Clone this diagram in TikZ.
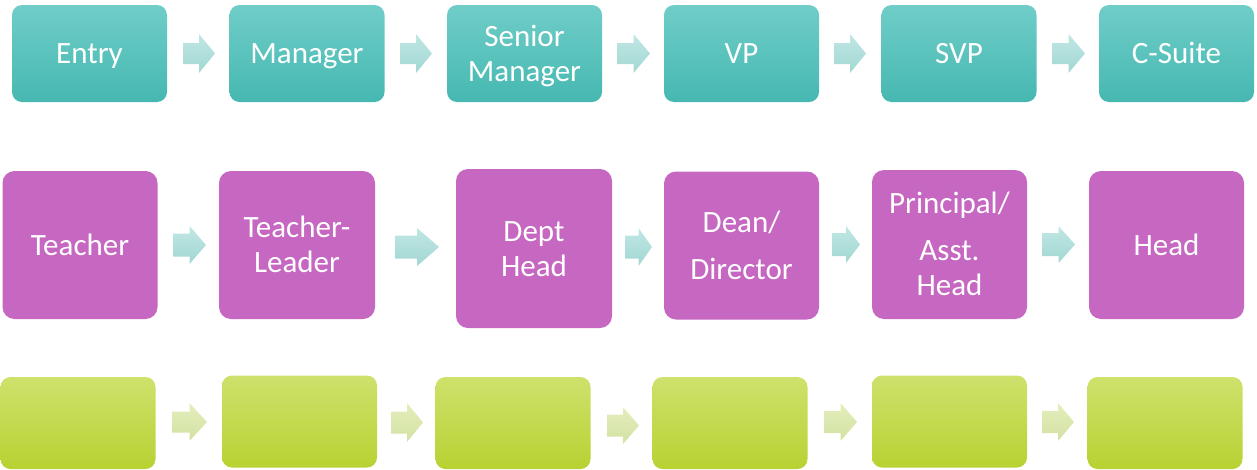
\documentclass[tikz,border=0pt]{standalone}
\usepackage{fontspec}
\setmainfont{Carlito}
\definecolor{tealtop}{RGB}{112,205,200}
\definecolor{tealmid}{RGB}{88,200,193}
\definecolor{tealbot}{RGB}{70,184,177}
\definecolor{magbox}{RGB}{198,103,194}
\definecolor{greentop}{RGB}{206,225,108}
\definecolor{greenmid}{RGB}{199,225,72}
\definecolor{greenbot}{RGB}{184,210,50}
\definecolor{tarrtop}{RGB}{192,231,228}
\definecolor{tarrbot}{RGB}{162,215,210}
\definecolor{garrtop}{RGB}{228,238,188}
\definecolor{garrbot}{RGB}{210,225,163}
\newcommand{\ts}{\rule[-7.5pt]{0pt}{35pt}}
\newcommand{\barrow}[6]{%
  \pgfmathsetmacro\xm{(#2+#3)/2}%
  \path[#1] (#2,{#4-#6}) -- (\xm,{#4-#6}) -- (\xm,{#4-#5}) -- (#3,#4) -- (\xm,{#4+#5}) -- (\xm,{#4+#6}) -- (#2,{#4+#6}) -- cycle;}
\tikzset{
  boxbase/.style={rectangle, rounded corners=10pt, inner sep=0pt, text=white, align=center,
    font=\fontsize{31}{35}\selectfont},
  topbox/.style={boxbase, minimum width=155pt, minimum height=97pt,
    top color=tealtop, middle color=tealmid, bottom color=tealbot},
  midbox/.style={boxbase, fill=magbox, minimum width=155pt, minimum height=148pt, rounded corners=12pt},
  botbox/.style={boxbase, minimum width=155pt, minimum height=92pt,
    top color=greentop, middle color=greenmid, bottom color=greenbot},
  tarrow/.style={top color=tarrtop, bottom color=tarrbot},
  garrow/.style={top color=garrtop, bottom color=garrbot},
}
\begin{document}
\begin{tikzpicture}[x=1pt,y=-1pt]
\useasboundingbox (0,0) rectangle (1257,469);
% top row
\node[topbox] (entry) at (89.5,53.5) {\ts Entry};
\node[topbox] (manager) at (307,53.5) {\ts Manager};
\node[topbox] (senior) at (524.5,53.5) {\ts Senior\\\ts Manager};
\node[topbox] (vp) at (741.5,53.5) {\ts VP};
\node[topbox] (svp) at (959,53.5) {\ts SVP};
\node[topbox] (csuite) at (1176.5,53.5) {\ts C-Suite};
\barrow{tarrow}{183}{215}{53.5}{19.5}{10.5}
\barrow{tarrow}{400}{432}{53.5}{19.5}{10.5}
\barrow{tarrow}{617}{650}{53.5}{19.5}{10.5}
\barrow{tarrow}{834}{866}{53.5}{19.5}{10.5}
\barrow{tarrow}{1052}{1085}{53.5}{19.5}{10.5}
% middle row
\node[midbox] (teacher) at (80,245) {\ts Teacher};
\node[midbox, minimum width=156pt] (tleader) at (297,245) {\ts Teacher-\\\ts Leader};
\node[midbox, minimum width=156pt, minimum height=159pt] (dept) at (534,248.5) {\ts Dept\\\ts Head};
\node[midbox] (dean) at (741.5,245.5) {\ts Dean/\\[12pt]\ts Director};
\node[midbox, minimum height=149pt] (principal) at (949.5,244.5) {\ts Principal/\\[12pt]\ts Asst.\\\ts Head};
\node[midbox] (head) at (1166.5,245) {\ts Head};
\barrow{tarrow}{173}{206}{245}{19}{11.5}
\barrow{tarrow}{395}{439}{247}{19}{11.5}
\barrow{tarrow}{625}{652}{247}{19}{11.5}
\barrow{tarrow}{832}{860}{244.5}{18.5}{11.5}
\barrow{tarrow}{1042}{1075}{244.5}{18.5}{11.5}
% bottom row
\node[botbox] (g1) at (78,423) {};
\node[botbox] (g2) at (299.5,421.5) {};
\node[botbox] (g3) at (513,423) {};
\node[botbox] (g4) at (730,423) {};
\node[botbox] (g5) at (949.5,421.5) {};
\node[botbox] (g6) at (1165,423) {};
\barrow{garrow}{172}{207}{422}{19}{10.5}
\barrow{garrow}{391}{423}{422.5}{19.5}{11}
\barrow{garrow}{607}{639}{425.5}{18.5}{11}
\barrow{garrow}{824}{857}{422}{19}{11}
\barrow{garrow}{1042}{1074}{422}{19}{11}
\end{tikzpicture}
\end{document}
